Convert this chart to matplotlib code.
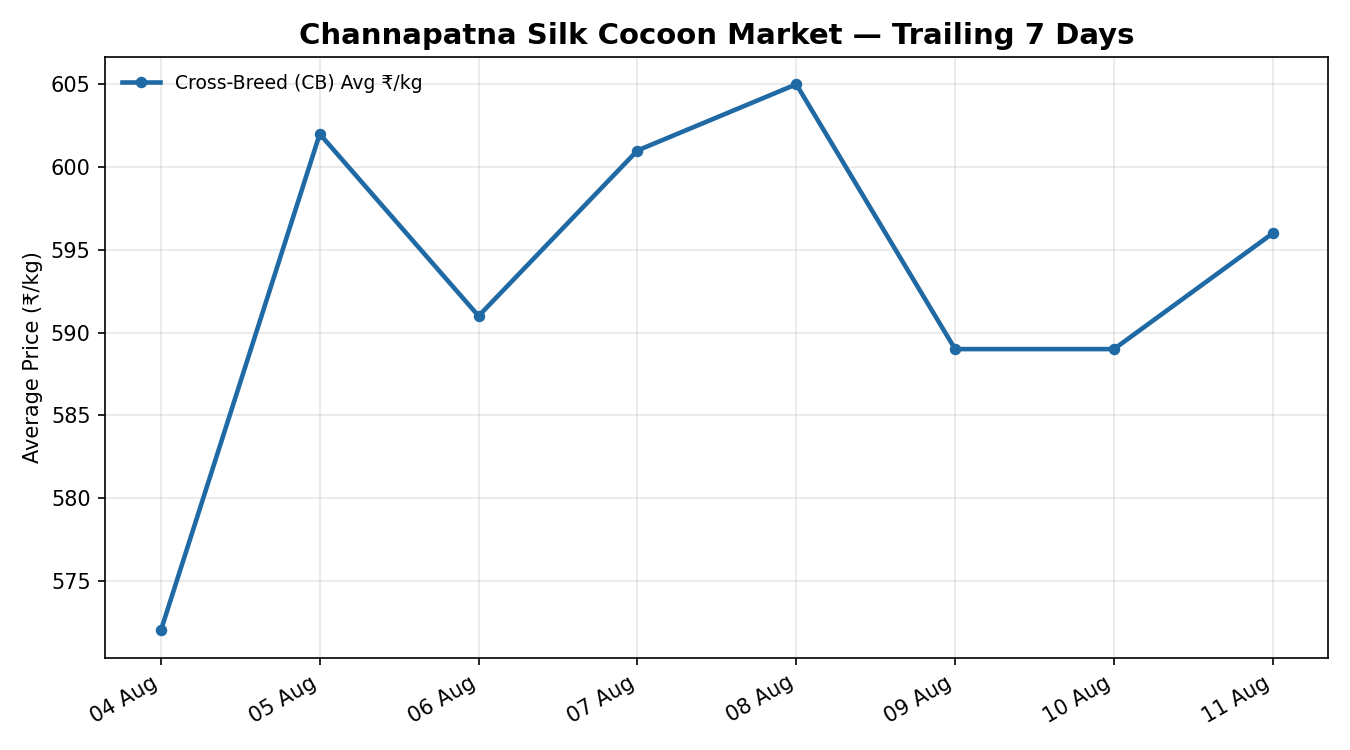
import matplotlib
matplotlib.use("Agg")
import matplotlib.pyplot as plt

dates = ["04 Aug", "05 Aug", "06 Aug", "07 Aug", "08 Aug", "09 Aug", "10 Aug", "11 Aug"]
prices = [572, 602, 591, 601, 605, 589, 589, 596]
series_label = "Cross-Breed (CB) Avg ₹/kg"

fig, ax = plt.subplots(figsize=(9, 5), dpi=150)
x = list(range(len(dates)))
ax.plot(x, prices, color="#1f6aa5", linewidth=2.2, marker="o", markersize=4.5, label=series_label)
ax.set_xticks(x)
ax.set_xticklabels(dates, rotation=30, ha="right")
ax.set_title("Channapatna Silk Cocoon Market — Trailing 7 Days", fontsize=14, fontweight="bold")
ax.set_ylabel("Average Price (₹/kg)")
ax.grid(True, alpha=0.3)
ax.legend(loc="upper left", frameon=False, fontsize=9)
fig.subplots_adjust(left=0.078, right=0.984, top=0.924, bottom=0.123)
fig.savefig("out.png", dpi=150)
